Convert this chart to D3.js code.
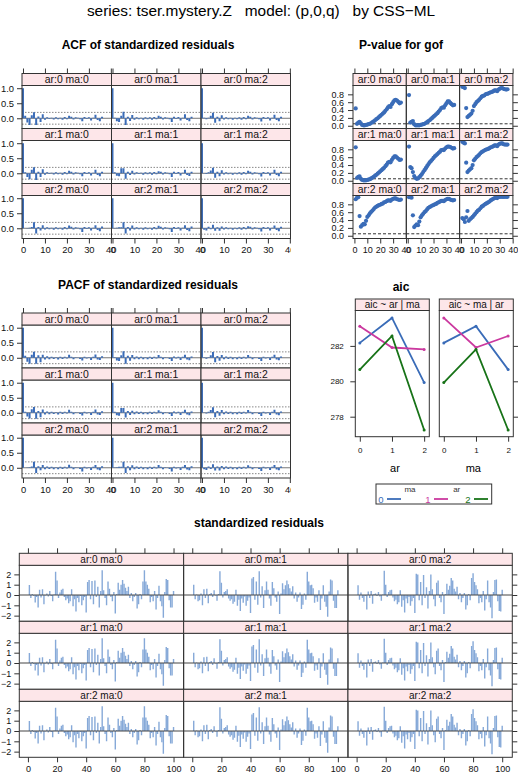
<!DOCTYPE html>
<html><head><meta charset="utf-8">
<script src="https://cdn.jsdelivr.net/npm/d3@7"></script>
<style>
body{margin:0;background:#fff;}
svg text{font-family:"Liberation Sans",Arial,Helvetica,sans-serif;}
</style></head><body>
<svg id="c" width="518" height="775"></svg>
<script>
// ---------------- DATA ----------------
const mainTitle = "series: tser.mystery.Z   model: (p,0,q)   by CSS\u2212ML";
const panelLabels = ["ar:0 ma:0","ar:0 ma:1","ar:0 ma:2","ar:1 ma:0","ar:1 ma:1","ar:1 ma:2","ar:2 ma:0","ar:2 ma:1","ar:2 ma:2"];

// ACF (lag 0..36)
const acf00=[1,0.08,-0.14,-0.22,0.10,0.20,-0.22,0.06,-0.12,0.13,-0.05,0.03,-0.02,0.02,-0.04,0.03,-0.03,0.02,-0.05,0.04,-0.03,0.08,0.05,-0.04,0.03,0.02,-0.03,-0.10,0.04,-0.02,0.03,-0.07,0.02,0.12,-0.06,-0.10,0.05];
const acf01=[1,0.02,-0.10,-0.12,0.08,0.22,-0.22,0.05,-0.09,0.11,-0.05,0.03,-0.03,0.02,-0.05,0.03,-0.03,0.03,-0.05,0.04,-0.03,0.08,0.05,-0.04,0.03,0.02,-0.03,-0.12,0.05,-0.02,0.04,-0.07,0.02,0.13,-0.06,-0.10,0.05];
const acf02=[1,0.02,-0.03,0.02,0.08,0.18,-0.15,0.05,-0.10,0.10,-0.04,0.03,-0.03,0.02,-0.05,0.02,-0.03,0.03,-0.05,0.04,-0.03,0.08,0.05,-0.04,0.03,0.02,-0.03,-0.11,0.04,-0.02,0.03,-0.07,0.02,0.12,-0.06,-0.10,0.05];
const acf10=[1,0.03,-0.12,-0.20,0.12,0.20,-0.22,0.05,-0.12,0.13,-0.05,0.03,-0.02,0.02,-0.04,0.03,-0.03,0.02,-0.05,0.04,-0.03,0.08,0.05,-0.04,0.03,0.02,-0.03,-0.10,0.04,-0.02,0.03,-0.07,0.02,0.12,-0.06,-0.10,0.05];
const acf11=[1,0.03,-0.08,-0.10,0.17,0.17,-0.18,0.05,-0.06,0.08,-0.04,0.03,-0.02,0.02,-0.05,0.03,-0.03,0.03,-0.05,0.04,-0.03,0.07,0.05,-0.04,0.03,0.02,-0.03,-0.12,0.05,-0.02,0.04,-0.07,0.02,0.12,-0.06,-0.09,0.05];
const acf12=[1,0.01,-0.02,0.03,0.09,0.18,-0.15,0.05,-0.10,0.10,-0.04,0.03,-0.03,0.02,-0.05,0.02,-0.03,0.03,-0.05,0.04,-0.03,0.08,0.05,-0.04,0.03,0.02,-0.03,-0.11,0.04,-0.02,0.03,-0.07,0.02,0.12,-0.06,-0.10,0.05];
const acf20=[1,0.00,0.01,0.02,0.04,0.20,-0.17,0.04,-0.07,0.10,-0.04,0.03,-0.03,0.02,-0.05,0.03,-0.03,0.02,-0.05,0.04,-0.03,0.09,0.05,-0.04,0.03,0.02,-0.03,-0.12,0.04,-0.02,0.03,-0.07,0.02,0.10,-0.06,-0.10,0.06];
const acf21=[1,0.01,0.02,0.03,0.03,0.20,-0.17,0.04,-0.07,0.09,-0.04,0.03,-0.03,0.02,-0.05,0.03,-0.03,0.02,-0.05,0.04,-0.03,0.08,0.05,-0.04,0.03,0.02,-0.03,-0.12,0.04,-0.02,0.03,-0.07,0.02,0.10,-0.06,-0.10,0.06];
const acf22=[1,-0.05,-0.07,0.05,-0.03,0.12,-0.08,0.03,-0.08,0.06,-0.04,0.03,-0.03,0.02,-0.05,0.02,-0.03,0.03,-0.05,0.04,-0.03,0.07,0.05,-0.04,0.03,0.02,-0.03,-0.11,0.04,-0.02,0.03,-0.07,0.02,0.09,-0.06,-0.10,0.05];

// PACF (lag 0..36)
const pacf00=[1,0.07,-0.13,-0.20,0.10,0.20,-0.20,0.08,-0.15,0.10,-0.06,0.05,-0.05,0.03,-0.04,0.02,-0.06,0.03,-0.04,0.03,-0.02,0.10,0.03,-0.05,0.02,0.01,-0.04,-0.09,0.03,-0.02,0.02,-0.07,0.03,0.11,-0.06,-0.07,0.05];
const pacf01=[1,0.02,-0.09,-0.11,0.08,0.22,-0.20,0.07,-0.10,0.09,-0.05,0.04,-0.05,0.03,-0.05,0.02,-0.05,0.03,-0.04,0.03,-0.02,0.09,0.03,-0.05,0.02,0.01,-0.04,-0.11,0.04,-0.02,0.03,-0.07,0.03,0.10,-0.06,-0.08,0.04];
const pacf02=[1,0.02,-0.03,0.02,0.08,0.19,-0.15,0.06,-0.10,0.09,-0.05,0.04,-0.04,0.03,-0.05,0.02,-0.05,0.03,-0.04,0.03,-0.02,0.09,0.03,-0.05,0.02,0.01,-0.04,-0.11,0.03,-0.02,0.02,-0.07,0.03,0.10,-0.06,-0.08,0.04];
const pacf10=[1,0.03,-0.12,-0.19,0.12,0.19,-0.20,0.06,-0.15,0.11,-0.06,0.04,-0.05,0.03,-0.04,0.02,-0.06,0.03,-0.04,0.03,-0.02,0.10,0.03,-0.05,0.02,0.01,-0.04,-0.09,0.03,-0.02,0.02,-0.07,0.03,0.11,-0.06,-0.07,0.05];
const pacf11=[1,0.03,-0.08,-0.10,0.16,0.16,-0.16,0.06,-0.07,0.07,-0.05,0.04,-0.04,0.03,-0.05,0.02,-0.05,0.03,-0.04,0.03,-0.02,0.08,0.03,-0.05,0.02,0.01,-0.04,-0.11,0.04,-0.02,0.03,-0.07,0.03,0.10,-0.06,-0.08,0.04];
const pacf12=[1,0.01,-0.02,0.03,0.09,0.18,-0.15,0.06,-0.10,0.09,-0.05,0.04,-0.04,0.03,-0.05,0.02,-0.05,0.03,-0.04,0.03,-0.02,0.09,0.03,-0.05,0.02,0.01,-0.04,-0.11,0.03,-0.02,0.02,-0.07,0.03,0.10,-0.06,-0.08,0.04];
const pacf20=[1,0.00,0.01,0.02,0.04,0.20,-0.17,0.05,-0.08,0.09,-0.05,0.04,-0.04,0.03,-0.05,0.02,-0.05,0.03,-0.04,0.03,-0.02,0.10,0.03,-0.05,0.02,0.01,-0.04,-0.12,0.03,-0.02,0.02,-0.07,0.03,0.09,-0.06,-0.08,0.05];
const pacf21=[1,0.01,0.02,0.03,0.03,0.20,-0.17,0.05,-0.08,0.08,-0.05,0.04,-0.04,0.03,-0.05,0.02,-0.05,0.03,-0.04,0.03,-0.02,0.09,0.03,-0.05,0.02,0.01,-0.04,-0.12,0.03,-0.02,0.02,-0.07,0.03,0.09,-0.06,-0.08,0.05];
const pacf22=[1,-0.05,-0.07,0.04,-0.04,0.12,-0.09,0.04,-0.09,0.06,-0.05,0.04,-0.04,0.03,-0.05,0.02,-0.05,0.03,-0.04,0.03,-0.02,0.08,0.03,-0.05,0.02,0.01,-0.04,-0.11,0.03,-0.02,0.02,-0.07,0.03,0.09,-0.06,-0.08,0.04];
const acfBand = 0.196;

// P-values for goodness of fit (lag 1..36)
const pv00=[0.44,0.05,0.08,0.10,0.06,0.02,0.01,0.01,0.02,0.03,0.04,0.05,0.07,0.09,0.11,0.14,0.17,0.19,0.22,0.25,0.28,0.31,0.34,0.38,0.42,0.47,0.50,0.48,0.55,0.60,0.65,0.66,0.64,0.61,0.57,0.59];
const pv01=[0.78,0.08,0.10,0.12,0.04,0.01,0.01,0.01,0.01,0.02,0.03,0.04,0.05,0.07,0.09,0.12,0.14,0.17,0.20,0.23,0.26,0.29,0.32,0.36,0.40,0.45,0.47,0.46,0.52,0.57,0.62,0.62,0.58,0.55,0.52,0.53];
const pv02=[0.99,0.98,0.96,0.45,0.22,0.25,0.28,0.31,0.38,0.50,0.55,0.60,0.63,0.66,0.70,0.74,0.76,0.77,0.80,0.81,0.82,0.84,0.85,0.86,0.88,0.90,0.90,0.88,0.92,0.94,0.96,0.96,0.94,0.93,0.92,0.93];
const pv10=[0.85,0.07,0.10,0.11,0.05,0.02,0.01,0.01,0.01,0.02,0.03,0.04,0.06,0.08,0.10,0.13,0.15,0.18,0.21,0.24,0.27,0.30,0.33,0.37,0.41,0.46,0.48,0.47,0.53,0.58,0.62,0.62,0.59,0.56,0.53,0.54];
const pv11=[0.87,0.35,0.32,0.22,0.12,0.07,0.05,0.06,0.09,0.13,0.17,0.22,0.27,0.32,0.37,0.42,0.47,0.50,0.54,0.58,0.62,0.65,0.68,0.71,0.74,0.78,0.79,0.78,0.82,0.85,0.87,0.87,0.86,0.84,0.82,0.83];
const pv12=[0.99,0.97,0.95,0.46,0.22,0.26,0.29,0.32,0.40,0.52,0.56,0.60,0.63,0.66,0.70,0.73,0.75,0.77,0.79,0.80,0.81,0.83,0.85,0.86,0.88,0.90,0.90,0.88,0.92,0.94,0.95,0.95,0.93,0.92,0.92,0.92];
const pv20=[0.93,0.97,0.98,0.50,0.23,0.27,0.30,0.29,0.38,0.48,0.52,0.57,0.61,0.64,0.68,0.72,0.74,0.76,0.78,0.79,0.81,0.82,0.85,0.86,0.88,0.90,0.90,0.89,0.92,0.94,0.95,0.95,0.93,0.92,0.91,0.92];
const pv21=[0.98,0.98,0.97,0.52,0.22,0.26,0.29,0.27,0.36,0.47,0.52,0.56,0.60,0.63,0.67,0.71,0.73,0.75,0.77,0.78,0.80,0.81,0.84,0.85,0.87,0.89,0.89,0.88,0.91,0.93,0.94,0.94,0.92,0.91,0.90,0.91];
const pv22=[0.45,0.42,0.35,0.47,0.63,0.38,0.42,0.45,0.48,0.52,0.56,0.60,0.64,0.66,0.70,0.74,0.76,0.79,0.81,0.83,0.85,0.87,0.90,0.92,0.94,0.96,0.97,0.96,0.98,0.99,0.99,0.99,0.99,0.99,0.99,0.99];
const pvRef = 0.05;

// AIC by ar (rows) and ma (columns)
const maLevels = [0,1,2];
const arLevels = [0,1,2];
const aicAr0 = [282.17, 283.11, 280.66];
const aicAr1 = [283.58, 281.91, 282.56];
const aicAr2 = [279.93, 281.80, 277.25];
const aicStrips = ["aic ~ ar | ma", "aic ~ ma | ar"];
const legendLabels = ["0","1","2"];

// standardized residuals (t = 1..100)
const residMa0=[0.98,-0.30,0.10,-0.10,-0.72,-0.20,-1.20,0.50,-0.25,0.55,
-0.90,-0.05,0.15,-0.15,0.40,-0.10,-0.60,0.05,2.25,1.40,
-0.30,0.25,0.50,0.60,-0.20,-0.50,-0.35,-0.80,-0.60,0.55,
-1.10,-0.40,-1.60,-0.30,-0.70,-0.10,-1.00,-0.50,-0.20,-1.70,
1.25,1.45,-0.40,1.35,-0.90,1.40,-0.20,0.80,-1.20,0.40,
2.40,0.45,-0.30,-1.00,1.30,0.60,-0.20,-0.60,0.30,-1.80,
0.10,1.20,0.50,1.00,1.45,1.10,0.70,0.40,0.80,-0.30,
0.20,-0.60,-0.20,0.20,-1.30,-0.90,0.10,-0.40,1.30,2.40,
1.30,1.00,0.60,-0.70,-0.20,-0.60,0.40,-1.40,-0.30,0.90,
-0.60,-1.10,-2.20,0.30,1.55,1.45,-0.50,-1.20,-1.20,0.40];
const residMa1=[1.00,-0.40,0.05,-0.60,-0.50,0.15,-1.00,0.55,-0.30,0.60,
-0.80,0.10,0.20,-0.20,0.45,-0.05,-0.55,0.10,2.30,1.20,
-0.25,0.30,0.40,0.55,-0.35,-0.55,-0.40,-0.85,-0.65,0.50,
-1.05,-0.45,-1.55,-0.35,-0.75,-0.15,-1.05,-0.55,-0.25,-1.75,
1.60,1.75,-0.45,1.30,-0.95,2.30,-0.25,0.85,-1.25,0.45,
1.30,0.50,-0.35,-1.05,1.25,0.65,-0.25,-0.65,0.35,-1.85,
0.15,1.15,0.55,0.95,1.40,1.05,0.65,0.35,0.85,-0.35,
0.25,-0.65,-0.25,0.25,-1.35,-0.95,0.15,-0.45,2.25,1.30,
0.95,1.00,0.65,-0.75,-0.25,-0.65,0.45,-1.45,-0.35,0.95,
-0.65,-1.15,-2.10,0.35,1.50,1.40,-0.55,-1.25,-1.25,0.45];
const residMa2=[0.95,-0.45,0.25,-0.30,-0.65,-0.10,-1.40,0.35,-0.30,0.40,
-0.85,0.10,0.15,-0.10,0.30,-0.15,-0.55,0.05,2.35,1.00,
-0.20,0.30,0.45,0.50,-0.25,-0.60,-0.45,-0.90,-0.70,0.45,
-1.15,-0.50,-1.70,-0.35,-0.80,-0.20,-1.05,-0.60,-0.30,-1.75,
2.05,2.00,-0.50,1.25,-1.00,1.95,-0.30,0.75,-1.30,0.40,
2.00,0.55,-0.40,-1.10,1.20,1.40,-0.30,-0.70,0.30,-1.85,
0.10,1.10,0.50,0.90,1.65,1.40,0.60,0.35,0.80,-0.40,
0.20,-0.70,-0.30,0.20,-1.40,-1.00,0.10,-0.50,1.65,2.10,
1.25,0.95,0.55,-0.80,-0.30,-0.70,0.40,-1.50,-0.40,1.40,
-0.70,-1.20,-2.25,0.30,1.45,1.50,-0.60,-1.55,-1.60,0.50];

// tick values
const acfXTicks=[0,10,20,30,40], acfYTicks=[0,0.5,1];
const pvXTicks=[0,10,20,30,40], pvYTicks=[0,0.2,0.4,0.6,0.8];
const aicXTicks=[0,1,2], aicYTicks=[278,280,282];
const resXTicks=[0,20,40,60,80,100], resYTicks=[-2,-1,0,1,2];

// ---------------- STYLE ----------------
const FONT='"Liberation Sans",Arial,Helvetica,sans-serif';
const BLUE="#3a6cb8", LIGHTBLUE="#86a9d8", MAGENTA="#cb399f", GREEN="#187318";
const groupColors=[BLUE,MAGENTA,GREEN];
const FRAME="#333", STRIP="#fde6e9";

const svg=d3.select("#c");
const defs=svg.append("defs");
let clipN=0;
function addClip(x,y,w,h){const id="cp"+(clipN++);defs.append("clipPath").attr("id",id).append("rect").attr("x",x).attr("y",y).attr("width",w).attr("height",h);return `url(#${id})`;}

function styleAxis(sel,fs){
  sel.select(".domain").remove();
  sel.selectAll("line").attr("stroke",FRAME);
  sel.selectAll("text").attr("font-family",FONT).attr("font-size",fs).attr("fill","#111");
}

function trellis(o){
  const g=o.parent;
  const gap=o.gap||0;
  for(let r=0;r<o.nRow;r++)for(let c=0;c<o.nCol;c++){
    const i=r*o.nCol+c;
    const x0=o.left+c*(o.colW+gap), x1=x0+o.colW;
    const y0=o.top+r*o.rowH, yp=y0+o.stripH, y1=y0+o.rowH;
    const xs=d3.scaleLinear().domain(o.xDomain).range([x0,x1]);
    const ys=d3.scaleLinear().domain(o.yDomain).range([y1,yp]);
    const pg=g.append("g").attr("clip-path",addClip(x0,yp,o.colW,y1-yp));
    o.panel(pg,xs,ys,i);
    g.append("rect").attr("x",x0).attr("y",yp).attr("width",o.colW).attr("height",y1-yp)
      .attr("fill","none").attr("stroke",FRAME).attr("stroke-width",1);
    g.append("rect").attr("x",x0).attr("y",y0).attr("width",o.colW).attr("height",o.stripH)
      .attr("fill",STRIP).attr("stroke",FRAME).attr("stroke-width",1);
    g.append("text").attr("x",(x0+x1)/2).attr("y",y0+o.stripH/2).attr("dy","0.36em")
      .attr("text-anchor","middle").attr("font-size",o.stripFont).attr("fill","#111").text(o.labels[i]);
    const yFmt=o.yFmt;
    if(c===0) g.append("g").attr("transform",`translate(${x0},0)`)
      .call(d3.axisLeft(ys).tickValues(o.yTicks).tickSize(5).tickPadding(o.yPad).tickFormat(yFmt))
      .call(s=>styleAxis(s,o.tickFont));
    if(c===o.nCol-1 && o.yRight) g.append("g").attr("transform",`translate(${x1},0)`)
      .call(d3.axisRight(ys).tickValues(o.yTicks).tickSize(5).tickFormat(""))
      .call(s=>styleAxis(s,o.tickFont));
    if(r===0 && o.xTop) g.append("g").attr("transform",`translate(0,${y0})`)
      .call(d3.axisTop(xs).tickValues(o.xTicks).tickSize(5).tickFormat(""))
      .call(s=>styleAxis(s,o.tickFont));
    if(r===o.nRow-1) g.append("g").attr("transform",`translate(0,${y1})`)
      .call(d3.axisBottom(xs).tickValues(o.xTicks).tickSize(5).tickPadding(o.xPad).tickFormat(d3.format("d")))
      .call(s=>styleAxis(s,o.tickFont));
  }
}

function hline(pg,xs,ys,v,col,dash){
  pg.append("line").attr("x1",xs.range()[0]).attr("x2",xs.range()[1]).attr("y1",ys(v)).attr("y2",ys(v))
    .attr("stroke",col).attr("stroke-width",1).attr("stroke-dasharray",dash||null);
}

function title(x,y,t,size,bold){
  svg.append("text").attr("x",x).attr("y",y).attr("text-anchor","middle").attr("font-size",size)
    .attr("font-weight",bold?"bold":"normal").attr("fill","#000").style("white-space","pre").text(t);
}

// main title
title(261,15.5,mainTitle,15.4,false);

// ---------- ACF / PACF ----------
function corrPanels(series,top,ttl,titleY){
  title(148,titleY,ttl,12,true);
  const g=svg.append("g").attr("clip-path",addClip(0,0,291,775));
  trellis({parent:g,nRow:3,nCol:3,left:22,top:top,colW:89.5,rowH:55,stripH:12,
    xDomain:[-0.45,40.3],yDomain:[-0.34,1.09],xTicks:acfXTicks,yTicks:acfYTicks,
    yFmt:d3.format(".1f"),yPad:3,xPad:3,tickFont:9.4,stripFont:10.4,labels:panelLabels,xTop:true,yRight:true,
    panel:(pg,xs,ys,i)=>{
      hline(pg,xs,ys,0,"#777");
      hline(pg,xs,ys,acfBand,"#888","1.5,1.5");
      hline(pg,xs,ys,-acfBand,"#888","1.5,1.5");
      pg.selectAll("line.bar").data(series[i]).enter().append("line").attr("class","bar")
        .attr("x1",(d,k)=>xs(k)).attr("x2",(d,k)=>xs(k)).attr("y1",ys(0)).attr("y2",d=>ys(d))
        .attr("stroke",BLUE).attr("stroke-width",2);
    }});
}
corrPanels([acf00,acf01,acf02,acf10,acf11,acf12,acf20,acf21,acf22],73.5,"ACF of standardized residuals",49);
corrPanels([pacf00,pacf01,pacf02,pacf10,pacf11,pacf12,pacf20,pacf21,pacf22],313,"PACF of standardized residuals",288.5);

// ---------- P-values ----------
title(401,49,"P-value for gof",12,true);
{
  const series=[pv00,pv01,pv02,pv10,pv11,pv12,pv20,pv21,pv22];
  trellis({parent:svg.append("g"),nRow:3,nCol:3,left:353,top:73.5,colW:53.3,rowH:55,stripH:12,
    xDomain:[-1.1,40.2],yDomain:[-0.07,1.025],xTicks:pvXTicks,yTicks:pvYTicks,
    yFmt:d3.format(".1f"),yPad:4,xPad:3,tickFont:9,stripFont:10.4,labels:panelLabels,xTop:true,yRight:true,
    panel:(pg,xs,ys,i)=>{
      hline(pg,xs,ys,pvRef,"#333","3,2");
      pg.selectAll("circle").data(series[i]).enter().append("circle")
        .attr("cx",(d,k)=>xs(k+1)).attr("cy",d=>ys(d)).attr("r",2.1).attr("fill",BLUE);
    }});
}

// ---------- AIC ----------
title(401,291,"aic",12,true);
{
  const byAr=[aicAr0,aicAr1,aicAr2];
  const g=svg.append("g");
  trellis({parent:g,nRow:1,nCol:2,gap:10,left:355.3,top:299,colW:74,rowH:137.7,stripH:11.5,
    xDomain:[-0.14,2.16],yDomain:[276.87,284.0],xTicks:aicXTicks,yTicks:aicYTicks,
    yFmt:d3.format("d"),yPad:6.5,xPad:6,tickFont:8,stripFont:10,labels:aicStrips,xTop:false,yRight:true,
    panel:(pg,xs,ys,i)=>{
      const groups = i===0
        ? maLevels.map(m=>arLevels.map(a=>({x:a,y:byAr[a][m]})))
        : arLevels.map(a=>maLevels.map(m=>({x:m,y:byAr[a][m]})));
      const line=d3.line().x(d=>xs(d.x)).y(d=>ys(d.y));
      groups.forEach((pts,gi)=>{
        pg.append("path").attr("d",line(pts)).attr("fill","none").attr("stroke",groupColors[gi]).attr("stroke-width",1.8);
        pg.selectAll(null).data(pts).enter().append("circle").attr("cx",d=>xs(d.x)).attr("cy",d=>ys(d.y))
          .attr("r",1.5).attr("fill",groupColors[gi]);
      });
    }});
  svg.append("text").attr("x",395).attr("y",472).attr("text-anchor","middle").attr("font-size",11).text("ar");
  svg.append("text").attr("x",473.3).attr("y",472).attr("text-anchor","middle").attr("font-size",11).text("ma");
  // legend
  const lg=svg.append("g");
  lg.append("rect").attr("x",376).attr("y",484).attr("width",115.7).attr("height",20).attr("fill","none").attr("stroke",FRAME);
  lg.append("text").attr("x",410).attr("y",492).attr("text-anchor","middle").attr("font-size",8).attr("fill","#333").text("ma");
  lg.append("text").attr("x",456.7).attr("y",492).attr("text-anchor","middle").attr("font-size",8).attr("fill","#333").text("ar");
  const lx=[381,428,468];
  legendLabels.forEach((l,k)=>{
    lg.append("text").attr("x",lx[k]).attr("y",502.5).attr("text-anchor","middle").attr("font-size",9.5).attr("fill",groupColors[k]).text(l);
    lg.append("line").attr("x1",lx[k]+6).attr("x2",lx[k]+20).attr("y1",499).attr("y2",499).attr("stroke",groupColors[k]).attr("stroke-width",1.8);
  });
}

// ---------- Residuals ----------
title(259,527,"standardized residuals",12,true);
{
  const series=[residMa0,residMa1,residMa2,residMa0,residMa1,residMa2,residMa0,residMa1,residMa2];
  trellis({parent:svg.append("g"),nRow:3,nCol:3,left:19.3,top:553.3,colW:164.33,rowH:68,stripH:12,
    xDomain:[-5.93,106.93],yDomain:[-2.55,2.88],xTicks:resXTicks,yTicks:resYTicks,
    yFmt:d3.format("d"),yPad:3,xPad:3,tickFont:9,stripFont:10,labels:panelLabels,xTop:true,yRight:true,
    panel:(pg,xs,ys,i)=>{
      pg.selectAll("line.bar").data(series[i]).enter().append("line").attr("class","bar")
        .attr("x1",(d,k)=>xs(k+1)).attr("x2",(d,k)=>xs(k+1)).attr("y1",ys(0)).attr("y2",d=>ys(d))
        .attr("stroke",LIGHTBLUE).attr("stroke-width",1.4);
      hline(pg,xs,ys,0,"#444");
    }});
}
</script>
</body></html>
